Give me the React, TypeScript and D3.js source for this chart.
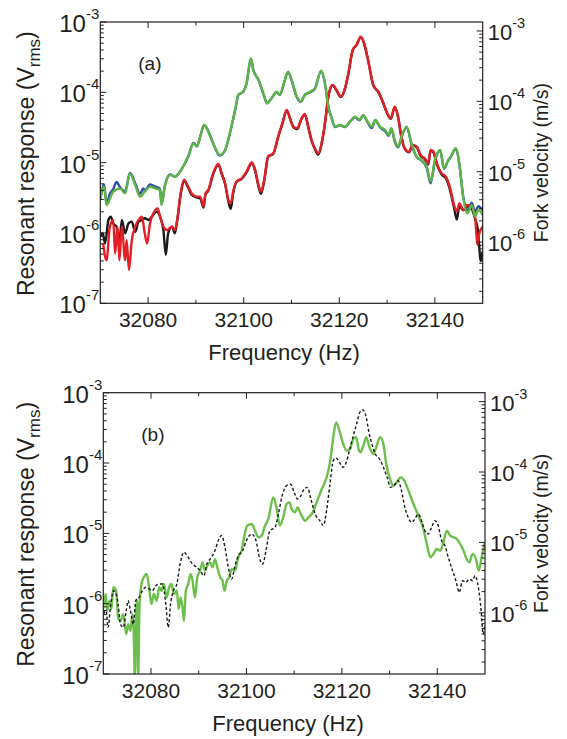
import React from "react";
import * as d3 from "d3";

type Pt = [number, number];

// ---------- Panel (a) data: frequency (Hz), amplitude ----------
const greenA: Pt[] = [
  [32070.0, 2.95e-6], [32070.8, 4.56e-6], [32071.3, 2.5e-6], [32072.7, 3.87e-6], [32074.1, 4.3e-6],
  [32075.2, 3.66e-6], [32076.2, 7.05e-6], [32077.3, 4.8e-6], [32078.3, 3.29e-6], [32079.3, 3.87e-6],
  [32080.4, 4.56e-6], [32081.4, 4.3e-6], [32082.5, 4.1e-6], [32082.8, 2.5e-6], [32083.5, 4.56e-6],
  [32084.6, 6.7e-6], [32085.6, 6.3e-6], [32086.7, 7.45e-6], [32087.7, 9.8e-6], [32088.4, 1.22e-5],
  [32089.5, 1.88e-5], [32090.2, 1.69e-5], [32090.9, 2.34e-5], [32091.7, 3.43e-5], [32092.6, 2.76e-5],
  [32093.6, 1.88e-5], [32095.0, 1.29e-5], [32096.1, 1.51e-5], [32097.1, 2.61e-5], [32098.2, 5.6e-5],
  [32098.9, 9.2e-5], [32099.9, 1.02e-4], [32100.6, 1.34e-4], [32101.5, 3.04e-4], [32102.0, 2.08e-4],
  [32103.1, 1.5e-4], [32104.1, 9.7e-5], [32104.9, 7.0e-5], [32105.8, 8.2e-5], [32106.9, 1.02e-4],
  [32107.6, 9.2e-5], [32108.4, 1.34e-4], [32109.3, 1.97e-4], [32110.0, 1.5e-4], [32111.1, 8.7e-5],
  [32111.9, 7.4e-5], [32112.8, 9.2e-5], [32113.9, 1.02e-4], [32114.9, 1.14e-4], [32116.2, 2.03e-4],
  [32117.0, 1.34e-4], [32117.7, 6.25e-5], [32118.4, 4.27e-5], [32119.1, 3.25e-5], [32120.1, 3.43e-5],
  [32121.2, 3.25e-5], [32122.2, 3.83e-5], [32123.3, 4.51e-5], [32124.2, 4.04e-5], [32125.0, 4.76e-5],
  [32125.7, 4.04e-5], [32126.8, 3.25e-5], [32127.5, 4.04e-5], [32128.5, 3.25e-5], [32129.6, 2.91e-5],
  [32130.3, 2.47e-5], [32130.9, 3.08e-5], [32131.6, 2.1e-5], [32132.3, 1.69e-5], [32133.0, 2.34e-5],
  [32134.1, 3.25e-5], [32135.1, 1.88e-5], [32136.2, 1.22e-5], [32137.2, 1.09e-5], [32138.3, 8.8e-6],
  [32139.1, 5.4e-6], [32140.0, 1.09e-5], [32141.1, 1.51e-5], [32141.9, 8.3e-6], [32142.8, 1.09e-5],
  [32143.3, 1.22e-5], [32144.4, 1.6e-5], [32145.1, 9.8e-6], [32145.9, 3.29e-6], [32146.8, 1.9e-6],
  [32147.7, 2.5e-6], [32148.4, 1.71e-6], [32149.1, 2.12e-6], [32150.0, 1.8e-6],
];

const blueA: Pt[] = [
  [32070.0, 3.1e-6], [32070.8, 4.9e-6], [32071.3, 2.6e-6], [32072.0, 3.6e-6], [32072.7, 4.2e-6],
  [32073.4, 5.3e-6], [32074.1, 4.5e-6], [32075.2, 3.9e-6], [32076.2, 7.2e-6], [32077.3, 5.1e-6],
  [32078.3, 3.6e-6], [32079.0, 4.3e-6], [32079.3, 4.0e-6], [32080.4, 4.9e-6], [32081.4, 4.6e-6],
  [32082.5, 4.2e-6], [32082.8, 2.6e-6], [32083.5, 4.7e-6], [32084.6, 6.8e-6], [32085.6, 6.3e-6],
  [32086.7, 7.5e-6], [32087.7, 9.8e-6], [32088.4, 1.23e-5], [32089.5, 1.9e-5], [32090.2, 1.72e-5],
  [32090.9, 2.34e-5], [32091.7, 3.4e-5], [32092.6, 2.8e-5], [32093.6, 1.9e-5], [32095.0, 1.26e-5],
  [32096.1, 1.5e-5], [32097.1, 2.6e-5], [32098.2, 5.5e-5], [32098.9, 9.2e-5], [32099.9, 1.02e-4],
  [32100.6, 1.34e-4], [32101.5, 3.0e-4], [32102.0, 2.1e-4], [32103.1, 1.5e-4], [32104.1, 9.6e-5],
  [32104.9, 7.0e-5], [32105.8, 8.2e-5], [32106.9, 1.0e-4], [32107.6, 9.2e-5], [32108.4, 1.33e-4],
  [32109.3, 1.95e-4], [32110.0, 1.5e-4], [32111.1, 8.6e-5], [32111.9, 7.3e-5], [32112.8, 9.2e-5],
  [32113.9, 1.0e-4], [32114.9, 1.13e-4], [32116.2, 2.0e-4], [32117.0, 1.34e-4], [32117.7, 6.3e-5],
  [32118.4, 4.3e-5], [32119.1, 3.2e-5], [32120.1, 3.4e-5], [32121.2, 3.2e-5], [32122.2, 3.8e-5],
  [32123.3, 4.4e-5], [32124.2, 4.0e-5], [32125.0, 4.7e-5], [32125.7, 4.0e-5], [32126.8, 3.1e-5],
  [32127.5, 4.0e-5], [32128.5, 3.2e-5], [32129.6, 2.8e-5], [32130.3, 2.4e-5], [32130.9, 3.0e-5],
  [32131.6, 2.0e-5], [32132.3, 1.65e-5], [32133.0, 2.3e-5], [32134.1, 3.2e-5], [32135.1, 1.85e-5],
  [32136.2, 1.2e-5], [32137.2, 1.07e-5], [32138.3, 8.4e-6], [32139.1, 5.1e-6], [32140.0, 1.05e-5],
  [32141.1, 1.5e-5], [32141.9, 8.2e-6], [32142.8, 1.08e-5], [32143.3, 1.2e-5], [32144.4, 1.58e-5],
  [32145.1, 9.6e-6], [32145.9, 3.4e-6], [32146.8, 2.1e-6], [32147.7, 2.7e-6], [32148.4, 2.0e-6],
  [32149.1, 2.4e-6], [32150.0, 2.1e-6],
];

const redA: Pt[] = [
  [32070.6, 7.1e-7], [32071.3, 4.1e-7], [32072.0, 1.23e-6], [32072.7, 1.53e-6], [32073.1, 5.1e-7],
  [32073.6, 1.23e-6], [32074.0, 4.1e-7], [32074.5, 1.23e-6], [32075.2, 4.1e-7], [32075.5, 7.9e-7],
  [32076.0, 3.0e-7], [32076.6, 7.9e-7], [32077.3, 1.23e-6], [32078.0, 1.53e-6], [32078.7, 1.71e-6],
  [32079.3, 9.9e-7], [32079.8, 7.1e-7], [32080.4, 1.37e-6], [32081.1, 1.9e-6], [32082.0, 2.24e-6],
  [32082.5, 1.71e-6], [32083.2, 1.23e-6], [32083.9, 1.1e-6], [32085.0, 1.23e-6], [32085.6, 1.1e-6],
  [32086.1, 1.53e-6], [32086.8, 3.66e-6], [32087.5, 5.7e-6], [32088.4, 4.56e-6], [32089.1, 3.66e-6],
  [32090.2, 3.29e-6], [32090.9, 3.29e-6], [32091.6, 2.37e-6], [32092.0, 3.66e-6], [32092.6, 4.1e-6],
  [32093.6, 7.05e-6], [32094.7, 9.6e-6], [32095.4, 7.05e-6], [32096.1, 5.1e-6], [32096.8, 2.95e-6],
  [32097.3, 2.64e-6], [32097.8, 3.87e-6], [32098.5, 5.4e-6], [32099.6, 6.0e-6], [32100.6, 7.45e-6],
  [32101.7, 1.01e-5], [32102.4, 7.9e-6], [32103.1, 4.8e-6], [32103.6, 3.87e-6], [32104.3, 5.7e-6],
  [32105.1, 1.22e-5], [32106.2, 1.36e-5], [32107.2, 2.34e-5], [32108.1, 3.62e-5], [32109.0, 5.6e-5],
  [32109.7, 4.27e-5], [32110.4, 3.25e-5], [32111.2, 3.08e-5], [32112.1, 4.27e-5], [32112.8, 4.92e-5],
  [32113.5, 3.25e-5], [32114.2, 2.1e-5], [32114.9, 1.6e-5], [32115.6, 1.36e-5], [32116.3, 1.88e-5],
  [32117.0, 3.62e-5], [32117.7, 8.7e-5], [32118.6, 1.27e-4], [32119.4, 1.08e-4], [32120.3, 8.7e-5],
  [32121.2, 1.14e-4], [32121.9, 1.86e-4], [32122.8, 4.0e-4], [32123.6, 4.71e-4], [32124.5, 6.18e-4],
  [32125.2, 4.97e-4], [32126.1, 2.73e-4], [32127.1, 1.27e-4], [32128.2, 1.02e-4], [32129.1, 7.4e-5],
  [32129.9, 5.3e-5], [32130.8, 4.27e-5], [32131.6, 6.25e-5], [32132.3, 4.51e-5], [32133.0, 2.34e-5],
  [32133.7, 1.6e-5], [32134.6, 1.43e-5], [32135.3, 1.78e-5], [32136.2, 1.69e-5], [32137.0, 1.29e-5],
  [32137.9, 1.15e-5], [32138.6, 9.8e-6], [32139.1, 1.51e-5], [32139.7, 1.43e-5], [32140.4, 9.8e-6],
  [32141.4, 7.05e-6], [32142.3, 6.3e-6], [32143.2, 4.3e-6], [32144.0, 2.5e-6], [32144.6, 2.01e-6],
  [32145.1, 2.64e-6], [32146.0, 2.12e-6], [32146.7, 2.5e-6], [32147.7, 2.37e-6], [32148.4, 1.71e-6],
  [32148.9, 6.7e-7], [32149.3, 9.9e-7], [32150.0, 1.23e-6],
];

const blackA: Pt[] = [
  [32070.0, 8.9e-7], [32070.5, 9.9e-7], [32071.0, 7.1e-7], [32071.7, 1.53e-6], [32072.2, 1.71e-6],
  [32072.7, 1.37e-6], [32073.4, 1.23e-6], [32073.9, 6.4e-7], [32074.5, 1.53e-6], [32075.2, 9.9e-7],
  [32075.9, 1.37e-6], [32076.6, 1.45e-6], [32077.3, 1.04e-6], [32078.0, 1.45e-6], [32078.7, 1.53e-6],
  [32079.3, 1.62e-6], [32080.1, 1.53e-6], [32080.8, 1.71e-6], [32081.8, 2.01e-6], [32082.5, 1.71e-6],
  [32083.2, 1.1e-6], [32083.7, 4.9e-7], [32084.2, 9.9e-7], [32085.0, 1.23e-6], [32085.6, 9.9e-7],
  [32086.1, 1.53e-6], [32086.8, 3.5e-6], [32087.5, 5.5e-6], [32088.4, 4.4e-6], [32089.1, 3.5e-6],
  [32090.2, 3.2e-6], [32090.9, 3.1e-6], [32091.6, 2.3e-6], [32092.0, 3.5e-6], [32092.6, 4.0e-6],
  [32093.6, 6.8e-6], [32094.7, 9.4e-6], [32095.4, 6.9e-6], [32096.1, 5.0e-6], [32096.8, 2.8e-6],
  [32097.3, 2.2e-6], [32097.8, 3.7e-6], [32098.5, 5.3e-6], [32099.6, 5.9e-6], [32100.6, 7.3e-6],
  [32101.7, 9.9e-6], [32102.4, 7.6e-6], [32103.1, 4.6e-6], [32103.6, 3.6e-6], [32104.3, 5.6e-6],
  [32105.1, 1.2e-5], [32106.2, 1.34e-5], [32107.2, 2.3e-5], [32108.1, 3.6e-5], [32109.0, 5.5e-5],
  [32109.7, 4.2e-5], [32110.4, 3.2e-5], [32111.2, 3.0e-5], [32112.1, 4.2e-5], [32112.8, 4.8e-5],
  [32113.5, 3.2e-5], [32114.2, 2.05e-5], [32114.9, 1.55e-5], [32115.6, 1.3e-5], [32116.3, 1.85e-5],
  [32117.0, 3.6e-5], [32117.7, 8.6e-5], [32118.6, 1.26e-4], [32119.4, 1.07e-4], [32120.3, 8.6e-5],
  [32121.2, 1.13e-4], [32121.9, 1.85e-4], [32122.8, 3.95e-4], [32123.6, 4.7e-4], [32124.5, 6.1e-4],
  [32125.2, 4.9e-4], [32126.1, 2.7e-4], [32127.1, 1.26e-4], [32128.2, 1.0e-4], [32129.1, 7.3e-5],
  [32129.9, 5.2e-5], [32130.8, 4.2e-5], [32131.6, 6.2e-5], [32132.3, 4.4e-5], [32133.0, 2.3e-5],
  [32133.7, 1.58e-5], [32134.6, 1.4e-5], [32135.3, 1.75e-5], [32136.2, 1.66e-5], [32137.0, 1.25e-5],
  [32137.9, 1.12e-5], [32138.6, 9.4e-6], [32139.1, 1.48e-5], [32139.7, 1.4e-5], [32140.4, 9.5e-6],
  [32141.4, 6.8e-6], [32142.3, 6.0e-6], [32143.2, 4.0e-6], [32144.0, 2.3e-6], [32144.6, 1.55e-6],
  [32145.1, 2.4e-6], [32146.0, 2.1e-6], [32146.7, 2.4e-6], [32147.7, 2.2e-6], [32148.4, 1.6e-6],
  [32149.0, 1.1e-6], [32149.6, 4.0e-7], [32150.0, 5.5e-7],
];

// ---------- Panel (b) data ----------
const greenB: Pt[] = [
  [32070.0, 8.9e-7], [32070.5, 1.37e-6], [32070.8, 7.9e-7], [32071.3, 1.1e-6], [32071.7, 8.4e-7],
  [32072.1, 1.71e-6], [32072.7, 1.53e-6], [32073.1, 6.4e-7], [32073.6, 5.7e-7], [32074.2, 7.1e-7],
  [32074.8, 3.7e-7], [32075.2, 5.1e-7], [32075.7, 4.1e-7], [32076.1, 7.1e-7], [32076.4, 3.3e-7],
  [32076.6, 9.0e-8], [32076.9, 9.0e-7], [32077.1, 1.1e-6], [32077.3, 9.0e-8], [32077.6, 9.9e-7], [32078.0, 1.9e-6],
  [32078.5, 2.37e-6], [32079.1, 2.64e-6], [32079.6, 1.71e-6], [32080.1, 9.9e-7], [32080.6, 1.37e-6],
  [32081.2, 1.1e-6], [32081.7, 1.71e-6], [32082.2, 1.53e-6], [32082.7, 1.9e-6], [32083.3, 1.23e-6],
  [32083.8, 1.71e-6], [32084.3, 1.9e-6], [32084.8, 1.37e-6], [32085.4, 1.53e-6], [32085.8, 8.4e-7],
  [32086.2, 1.23e-6], [32086.6, 8.9e-7], [32086.9, 5.7e-7], [32087.3, 1.53e-6], [32087.8, 1.9e-6],
  [32088.3, 2.64e-6], [32088.7, 2.12e-6], [32089.2, 1.23e-6], [32089.7, 2.37e-6], [32090.3, 2.95e-6],
  [32090.8, 3.87e-6], [32091.3, 2.95e-6], [32091.8, 3.47e-6], [32092.4, 3.87e-6], [32092.9, 3.29e-6],
  [32093.4, 4.3e-6], [32093.9, 3.29e-6], [32094.5, 2.37e-6], [32095.0, 2.12e-6], [32095.4, 1.53e-6],
  [32095.9, 2.12e-6], [32096.4, 2.37e-6], [32096.9, 3.1e-6], [32097.6, 2.95e-6], [32098.3, 4.56e-6],
  [32099.0, 5.7e-6], [32099.5, 8.8e-6], [32100.2, 1.29e-5], [32101.1, 1.36e-5], [32101.8, 1.09e-5],
  [32102.5, 8.8e-6], [32103.2, 9.3e-6], [32103.9, 1.29e-5], [32104.6, 1.6e-5], [32105.6, 3.25e-5],
  [32106.3, 2.34e-5], [32107.0, 1.29e-5], [32107.7, 1.69e-5], [32108.4, 2.61e-5], [32109.0, 2.76e-5],
  [32109.5, 2.2e-5], [32110.2, 1.99e-5], [32110.7, 2.34e-5], [32111.4, 1.88e-5], [32112.3, 1.51e-5],
  [32113.0, 1.69e-5], [32113.9, 1.99e-5], [32114.7, 2.76e-5], [32115.8, 4.27e-5], [32116.8, 6.25e-5],
  [32117.5, 1.02e-4], [32118.2, 2.32e-4], [32118.8, 3.78e-4], [32119.6, 2.73e-4], [32120.3, 1.86e-4],
  [32121.0, 1.5e-4], [32121.7, 1.58e-4], [32122.4, 2.2e-4], [32123.0, 2.32e-4], [32123.5, 1.58e-4],
  [32123.9, 1.42e-4], [32124.5, 1.76e-4], [32125.1, 2.32e-4], [32125.8, 1.67e-4], [32126.6, 1.34e-4],
  [32127.3, 1.76e-4], [32128.0, 2.32e-4], [32128.7, 1.86e-4], [32129.3, 9.7e-5], [32130.1, 5.9e-5],
  [32130.8, 4.76e-5], [32131.5, 5.3e-5], [32132.3, 6.25e-5], [32132.9, 5.9e-5], [32133.7, 4.51e-5],
  [32134.6, 3.08e-5], [32135.3, 2.34e-5], [32136.2, 1.69e-5], [32137.1, 1.15e-5], [32137.8, 7.05e-6],
  [32138.6, 4.56e-6], [32139.2, 5.1e-6], [32139.9, 6.0e-6], [32140.6, 5.7e-6], [32141.1, 6.7e-6],
  [32142.0, 1.09e-5], [32142.7, 9.3e-6], [32143.4, 8.8e-6], [32144.1, 8.3e-6], [32144.8, 7.05e-6],
  [32145.5, 5.7e-6], [32146.0, 4.56e-6], [32146.7, 3.87e-6], [32147.4, 5.1e-6], [32148.1, 4.3e-6],
  [32148.7, 2.95e-6], [32149.3, 4.56e-6], [32150.0, 7.45e-6],
];

const blackB: Pt[] = [
  [32070.0, 7.1e-7], [32070.6, 7.9e-7], [32071.0, 4.6e-7], [32071.5, 8.9e-7], [32072.1, 1.53e-6],
  [32072.7, 1.37e-6], [32073.1, 9.9e-7], [32073.6, 5.1e-7], [32074.2, 4.6e-7], [32074.8, 7.9e-7],
  [32075.2, 1.1e-6], [32075.7, 7.9e-7], [32076.3, 5.1e-7], [32076.8, 1.1e-6], [32077.5, 1.23e-6],
  [32078.2, 1.53e-6], [32078.9, 1.71e-6], [32079.6, 1.62e-6], [32080.3, 1.53e-6], [32081.0, 1.8e-6],
  [32081.7, 1.9e-6], [32082.4, 1.9e-6], [32083.1, 9.9e-7], [32083.6, 4.6e-7], [32084.1, 9.9e-7],
  [32084.7, 1.53e-6], [32085.4, 1.9e-6], [32086.1, 3.66e-6], [32086.9, 5.4e-6], [32087.8, 4.56e-6],
  [32088.7, 3.66e-6], [32089.6, 3.29e-6], [32090.3, 2.95e-6], [32091.1, 2.5e-6], [32091.7, 3.66e-6],
  [32092.4, 4.3e-6], [32093.4, 5.7e-6], [32094.1, 7.9e-6], [32094.8, 9.3e-6], [32095.5, 6.3e-6],
  [32096.2, 3.29e-6], [32096.9, 2.24e-6], [32097.6, 3.47e-6], [32098.3, 4.8e-6], [32099.2, 5.7e-6],
  [32100.0, 7.9e-6], [32101.1, 9.8e-6], [32102.0, 7.9e-6], [32102.7, 4.56e-6], [32103.4, 3.66e-6],
  [32104.1, 5.7e-6], [32104.9, 1.09e-5], [32106.0, 1.22e-5], [32106.7, 1.88e-5], [32107.4, 3.25e-5],
  [32108.4, 4.76e-5], [32109.3, 5.0e-5], [32110.0, 3.83e-5], [32110.7, 3.08e-5], [32111.4, 3.43e-5],
  [32112.1, 4.27e-5], [32112.8, 4.51e-5], [32113.5, 3.08e-5], [32114.4, 1.88e-5], [32115.4, 1.51e-5],
  [32116.1, 1.29e-5], [32116.8, 2.1e-5], [32117.5, 5.0e-5], [32118.2, 1.08e-4], [32118.8, 1.18e-4],
  [32119.5, 1.02e-4], [32120.2, 8.7e-5], [32120.9, 1.02e-4], [32121.6, 1.5e-4], [32122.3, 2.32e-4],
  [32123.1, 3.6e-4], [32123.8, 5.3e-4], [32124.4, 5.7e-4], [32125.1, 4.5e-4], [32125.6, 2.9e-4],
  [32126.3, 1.86e-4], [32127.0, 1.34e-4], [32127.9, 1.14e-4], [32128.7, 8.7e-5], [32129.5, 6.25e-5],
  [32130.2, 4.51e-5], [32130.9, 4.76e-5], [32131.8, 5.6e-5], [32132.5, 4.04e-5], [32133.2, 2.34e-5],
  [32133.9, 1.69e-5], [32134.6, 1.43e-5], [32135.3, 1.6e-5], [32136.0, 1.88e-5], [32136.7, 1.51e-5],
  [32137.4, 1.09e-5], [32138.1, 9.8e-6], [32138.8, 1.22e-5], [32139.5, 1.51e-5], [32140.2, 1.29e-5],
  [32140.9, 7.9e-6], [32141.6, 6.7e-6], [32142.3, 4.56e-6], [32143.2, 2.95e-6], [32143.9, 2.12e-6],
  [32144.6, 1.45e-6], [32145.3, 2.12e-6], [32146.0, 2.01e-6], [32146.7, 2.24e-6], [32147.4, 2.12e-6],
  [32147.9, 2.5e-6], [32148.6, 1.71e-6], [32149.2, 7.9e-7], [32149.6, 3.7e-7], [32150.0, 5.1e-7],
];

// ---------- Axis settings ----------
const freqDomain: [number, number] = [32070, 32150];
const freqTickValues = [32080, 32100, 32120, 32140];
const freqMinorTicks = [32090, 32110, 32130];
const leftDomain: [number, number] = [1e-7, 1e-3];
const rightDomain: [number, number] = [1.35e-7, 1.34e-3];

const FONT = "'Liberation Sans', Arial, Helvetica, sans-serif";
const INK = "#231f20";

type Series = { data: Pt[]; color: string; width: number; dash?: string };

function isDecade(v: number) {
  const l = Math.log10(v);
  return Math.abs(l - Math.round(l)) < 1e-6;
}

function Panel(props: {
  id: string;
  x0: number; x1: number; y0: number; y1: number;
  label: string; series: Series[];
  xTitleX: number; leftTitleX: number; rightTitleX: number;
}) {
  const { id, x0, x1, y0, y1, label, series, xTitleX, leftTitleX, rightTitleX } = props;
  const x = d3.scaleLinear().domain(freqDomain).range([x0, x1]);
  const y = d3.scaleLog().domain(leftDomain).range([y1, y0]);
  const yr = d3.scaleLog().domain(rightDomain).range([y1, y0]);
  const line = d3
    .line<Pt>()
    .x((d) => x(d[0]))
    .y((d) => y(d[1]))
    .curve(d3.curveMonotoneX);

  const leftTicks = y.ticks();
  const rightTicks = yr.ticks().filter((v) => yr(v) >= y0 - 0.5 && yr(v) <= y1 + 0.5);
  const cy = (y0 + y1) / 2;
  const MAJ = 6;
  const MIN = 3.5;

  return (
    <g>
      <defs>
        <clipPath id={id}>
          <rect x={x0} y={y0} width={x1 - x0} height={y1 - y0} />
        </clipPath>
      </defs>
      <g clipPath={`url(#${id})`}>
        {series.map((s, i) => (
          <path
            key={i}
            d={line(s.data) || ""}
            fill="none"
            stroke={s.color}
            strokeWidth={s.width}
            strokeDasharray={s.dash}
            strokeLinejoin="round"
            strokeLinecap="butt"
          />
        ))}
      </g>
      <rect x={x0} y={y0} width={x1 - x0} height={y1 - y0} fill="none" stroke={INK} strokeWidth={1.2} />
      {freqTickValues.map((f) => (
        <g key={"xt" + f}>
          <line x1={x(f)} x2={x(f)} y1={y1} y2={y1 - MAJ} stroke={INK} strokeWidth={1} />
          <line x1={x(f)} x2={x(f)} y1={y0} y2={y0 + MAJ} stroke={INK} strokeWidth={1} />
          <text x={x(f)} y={y1 + 23.5} textAnchor="middle" fontSize={21} fontFamily={FONT} fill={INK}>
            {f}
          </text>
        </g>
      ))}
      {freqMinorTicks.map((f) => (
        <g key={"xm" + f}>
          <line x1={x(f)} x2={x(f)} y1={y1} y2={y1 - MIN} stroke={INK} strokeWidth={1} />
          <line x1={x(f)} x2={x(f)} y1={y0} y2={y0 + MIN} stroke={INK} strokeWidth={1} />
        </g>
      ))}
      {leftTicks.map((v, i) => {
        const major = isDecade(v);
        return (
          <line key={"lt" + i} x1={x0} x2={x0 + (major ? MAJ : MIN)} y1={y(v)} y2={y(v)} stroke={INK} strokeWidth={1} />
        );
      })}
      {leftTicks.filter(isDecade).map((v) => (
        <text key={"ll" + v} x={x0 - 1} y={y(v) + 10} textAnchor="end" fontSize={24} fontFamily={FONT} fill={INK}>
          10<tspan dy={-13} fontSize={15}>{"-" + Math.round(-Math.log10(v))}</tspan>
        </text>
      ))}
      {rightTicks.map((v, i) => {
        const major = isDecade(v);
        return (
          <line key={"rt" + i} x1={x1} x2={x1 - (major ? MAJ : MIN)} y1={yr(v)} y2={yr(v)} stroke={INK} strokeWidth={1} />
        );
      })}
      {rightTicks.filter(isDecade).map((v) => (
        <text key={"rl" + v} x={x1 + 5} y={yr(v) + 9} textAnchor="start" fontSize={22} fontFamily={FONT} fill={INK}>
          10<tspan dy={-12} fontSize={14.5}>{"-" + Math.round(-Math.log10(v))}</tspan>
        </text>
      ))}
      <text x={x0 + 38} y={y0 + 48} fontSize={19} fontFamily={FONT} fill={INK}>
        {label}
      </text>
      <text x={xTitleX} y={y1 + 57} textAnchor="middle" fontSize={22} fontFamily={FONT} fill={INK}>
        Frequency (Hz)
      </text>
      <text
        transform={`translate(${leftTitleX},${cy + 1}) rotate(-90)`}
        textAnchor="middle"
        fontSize={23}
        fontFamily={FONT}
        fill={INK}
      >
        Resonant response (V<tspan dy={6} fontSize={17}>rms</tspan>
        <tspan dy={-6}>)</tspan>
      </text>
      <text
        transform={`translate(${rightTitleX},${cy}) rotate(-90)`}
        textAnchor="middle"
        fontSize={19.5}
        fontFamily={FONT}
        fill={INK}
      >
        Fork velocity (m/s)
      </text>
    </g>
  );
}

export default function App() {
  return (
    <svg
      width={567}
      height={739}
      viewBox="0 0 567 739"
      style={{ position: "absolute", left: 0, top: 0, background: "#fff", display: "block" }}
    >
      <rect x={0} y={0} width={567} height={739} fill="#fff" />
      <Panel
        id="clipA"
        x0={100.3}
        x1={482.7}
        y0={22}
        y1={303.3}
        label="(a)"
        xTitleX={284}
        leftTitleX={34}
        rightTitleX={548}
        series={[
          { data: blackA, color: "#1a1a1a", width: 2.4 },
          { data: blueA, color: "#2f4fa3", width: 2.4 },
          { data: redA, color: "#e41f26", width: 2.4 },
          { data: greenA, color: "#5db545", width: 2.4 },
        ]}
      />
      <Panel
        id="clipB"
        x0={103.3}
        x1={485}
        y0={392.7}
        y1={674}
        label="(b)"
        xTitleX={288}
        leftTitleX={34}
        rightTitleX={548}
        series={[
          { data: greenB, color: "#6cbf4a", width: 2.4 },
          { data: blackB, color: "#1a1a1a", width: 1.4, dash: "3,2.2" },
        ]}
      />
    </svg>
  );
}
